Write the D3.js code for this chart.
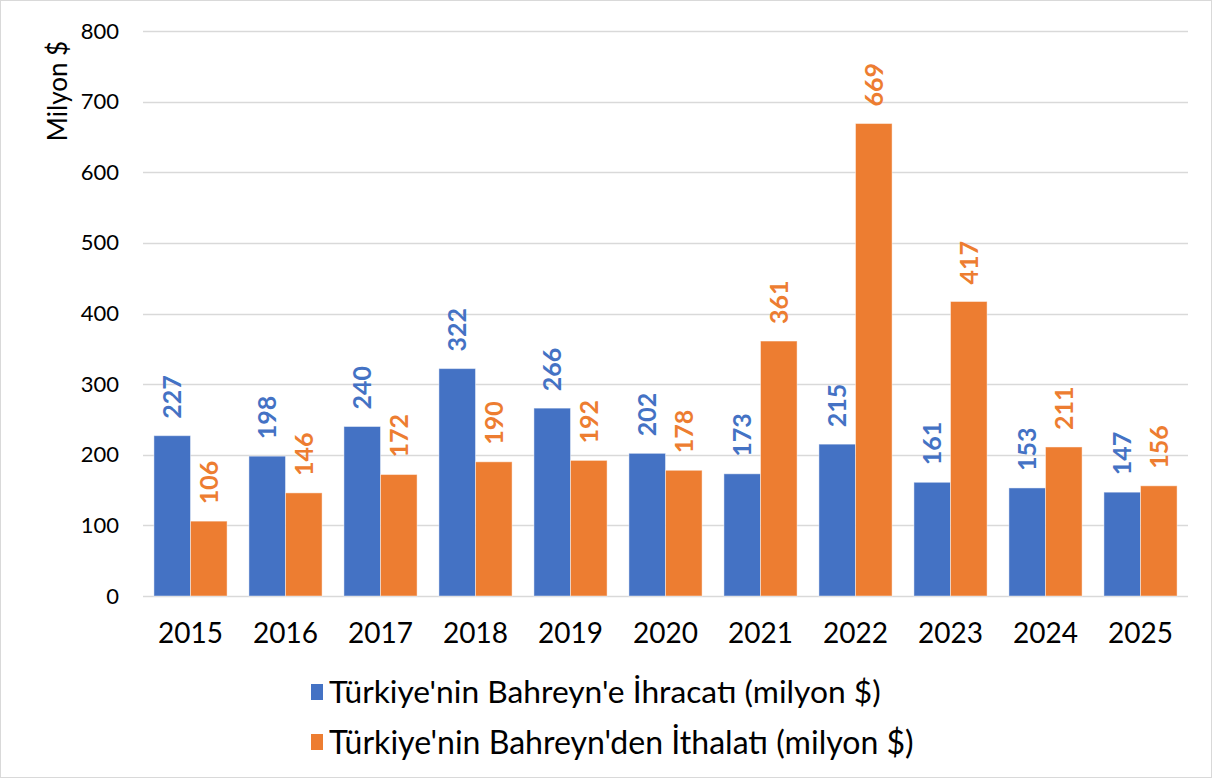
<!DOCTYPE html>
<html><head><meta charset="utf-8">
<script src="https://cdn.jsdelivr.net/npm/d3@7"></script>
<style>body{margin:0;background:#fff}svg{display:block}text{font-family:Lato,"Open Sans",sans-serif}</style>
</head><body>
<svg id="c" width="1213" height="780"></svg>
<script>
const years = ["2015","2016","2017","2018","2019","2020","2021","2022","2023","2024","2025"];
const exportsVals = [227,198,240,322,266,202,173,215,161,153,147];
const importsVals = [106,146,172,190,192,178,361,669,417,211,156];
const seriesNames = ["Türkiye'nin Bahreyn'e İhracatı (milyon $)","Türkiye'nin Bahreyn'den İthalatı (milyon $)"];
const yTicks = [0,100,200,300,400,500,600,700,800];
const yTitle = "Milyon $";

const colors = ["#4472C4","#ED7D31"];
const svg = d3.select("#c");
svg.append("rect").attr("x",0.5).attr("y",0.5).attr("width",1211).attr("height",777)
  .attr("fill","#fff").attr("stroke","#d9d9d9");

const pL=143, pR=1188, pT=31, pB=596;
const x = d3.scaleBand().domain(years).range([pL,pR]).paddingInner(0.23).paddingOuter(0.115);
const xs = d3.scaleBand().domain([0,1]).range([0,x.bandwidth()]);
const y = d3.scaleLinear().domain([0,800]).range([pB,pT]);

// gridlines
svg.append("g").selectAll("line").data(yTicks).join("line")
  .attr("x1",pL).attr("x2",pR).attr("y1",d=>Math.round(y(d))+0.5).attr("y2",d=>Math.round(y(d))+0.5)
  .attr("stroke","#d9d9d9").attr("stroke-width",1.5);

// y axis labels
const yAxis = d3.axisLeft(y).tickValues(yTicks).tickSize(0).tickPadding(0);
const ya = svg.append("g").attr("transform",`translate(${pL-24},0)`).call(yAxis);
ya.select(".domain").remove();
ya.selectAll("text").attr("font-size",22).attr("fill","#000").style("font-family","Lato,sans-serif");

// x axis labels
const xAxis = d3.axisBottom(x).tickSize(0).tickPadding(0);
const xa = svg.append("g").attr("transform",`translate(0,${pB+27})`).call(xAxis);
xa.select(".domain").remove();
xa.selectAll("text").attr("font-size",28).attr("fill","#000").style("font-family","Lato,sans-serif");

const series = [exportsVals, importsVals];
series.forEach((vals,si)=>{
  const g = svg.append("g");
  g.selectAll("rect").data(vals).join("rect")
    .attr("x",(d,i)=>x(years[i])+xs(si))
    .attr("width",xs.bandwidth())
    .attr("y",d=>y(d)).attr("height",d=>pB-y(d))
    .attr("fill",colors[si]).attr("stroke","#fff").attr("stroke-opacity",0.45).attr("stroke-width",1);
  g.selectAll("text").data(vals).join("text")
    .attr("transform",(d,i)=>`translate(${x(years[i])+xs(si)+xs.bandwidth()/2},${y(d)-17}) rotate(-90)`)
    .attr("dy","0.36em").attr("text-anchor","start")
    .attr("font-size",25).attr("font-weight","bold").attr("fill",colors[si])
    .text(d=>d);
});

// y title
svg.append("text").attr("transform","translate(58,91) rotate(-90)")
  .attr("text-anchor","middle").attr("dy","0.36em").attr("font-size",26).attr("fill","#000").text(yTitle);

// legend
const targetW=[552,585];
seriesNames.forEach((n,i)=>{
  const cy = 692 + i*50;
  svg.append("rect").attr("x",311).attr("y",cy-8).attr("width",12).attr("height",16).attr("fill",colors[i]);
  const t = svg.append("text").attr("x",329).attr("y",cy).attr("dy","0.36em")
    .attr("font-size",27).attr("fill","#000").text(n);
  const w = t.node().getComputedTextLength();
  t.attr("font-size",27*targetW[i]/w);
});
</script>
</body></html>
